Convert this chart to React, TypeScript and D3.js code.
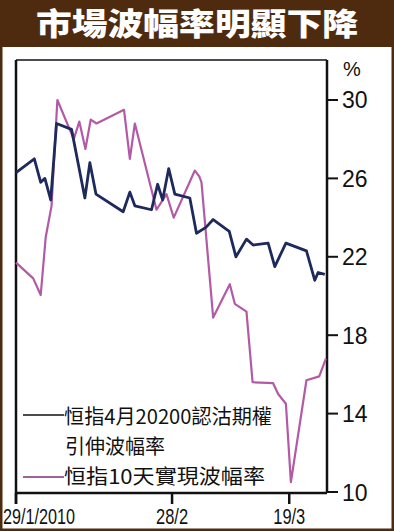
import React from 'react';
import * as d3 from 'd3';

// x is a position in trading-period units from 29/1/2010, y is volatility (%)
const impliedX = [0, 3.3, 4.45, 5.2, 6.25, 7.3, 10.0, 12.4, 13.3, 14.4, 19.3, 20.5, 21.4, 24.4, 25.5, 26.4, 27.5, 28.6, 31.3, 32.5, 34.2, 35.5, 38.4, 39.6, 41.5, 42.7, 45.4, 46.6, 48.6, 52.3, 53.8, 54.4, 55.6];
const impliedVol = [26.3, 27.0, 25.8, 26.0, 24.9, 28.8, 28.5, 25.0, 26.8, 25.2, 24.3, 25.3, 24.6, 24.4, 25.7, 24.9, 26.5, 25.2, 25.0, 23.2, 23.5, 23.9, 23.3, 22.0, 22.9, 22.6, 22.7, 21.5, 22.7, 22.3, 20.8, 21.2, 21.1];

const realizedX = [0, 3.1, 4.45, 5.35, 6.4, 7.45, 10.4, 11.4, 12.5, 13.45, 14.5, 19.45, 20.5, 21.4, 25.3, 27.1, 28.4, 32.2, 33.0, 33.4, 35.5, 38.5, 39.4, 41.5, 42.6, 46.3, 47.2, 48.6, 49.5, 52.3, 54.6, 55.8];
const realizedVol = [21.7, 20.9, 20.05, 23.0, 24.6, 30.0, 28.0, 28.9, 27.5, 29.0, 28.8, 29.5, 27.0, 28.8, 24.4, 25.2, 24.0, 26.4, 26.1, 25.8, 18.9, 20.6, 19.6, 19.2, 15.6, 15.55, 15.0, 14.5, 10.5, 15.7, 15.9, 16.8];

const xTickPos = [0, 28.1, 49.2];
const xTickLabels = ['29/1/2010', '28/2', '19/3'];
const yTicks = [10, 14, 18, 22, 26, 30];

const title = '市場波幅率明顯下降';
const legend1a = '恒指4月20200認沽期權';
const legend1b = '引伸波幅率';
const legend2 = '恒指10天實現波幅率';

const W = 394;
const H = 531;
const brown = '#4e2b0f';
const navy = '#1e295c';
const purple = '#b35aa6';

const App: React.FC = () => {
  const left = 16;
  const right = 327;
  const top = 60;
  const bottom = 493;

  const x = d3.scaleLinear().domain([0, 56]).range([left, right]);
  const y = d3.scaleLinear().domain([10, 32.04]).range([492, top]);

  const line = d3.line<[number, number]>()
    .x(d => x(d[0]))
    .y(d => y(d[1]));

  const implied = impliedX.map((v, i) => [v, impliedVol[i]] as [number, number]);
  const realized = realizedX.map((v, i) => [v, realizedVol[i]] as [number, number]);

  const cjk = '"Noto Sans CJK TC", "Noto Sans CJK SC", sans-serif';
  const latin = '"Liberation Sans", Arial, sans-serif';

  return (
    <svg width={W} height={H} style={{ position: 'absolute', left: 0, top: 0 }}>
      <rect x={0} y={0} width={W} height={H} fill="#ffffff" />
      {/* brown frame and title band */}
      <rect x={1} y={1} width={W - 2} height={H - 2} fill="none" stroke={brown} strokeWidth={3} />
      <rect x={0} y={0} width={W} height={47} fill={brown} />
      <text x={W / 2} y={35} textAnchor="middle" fill="#ffffff" fontFamily={cjk}
        fontWeight={900} fontSize={31} textLength={322} lengthAdjust="spacingAndGlyphs">{title}</text>

      {/* plot frame */}
      <line x1={left} x2={right} y1={top} y2={top} stroke="#111" strokeWidth={1.5} />
      <line x1={left} x2={left} y1={top} y2={bottom + 11} stroke="#111" strokeWidth={2.5} />
      <line x1={right} x2={right} y1={top} y2={bottom} stroke="#111" strokeWidth={2.5} />
      <line x1={left} x2={right} y1={bottom} y2={bottom} stroke="#111" strokeWidth={2.5} />

      {/* right axis */}
      {yTicks.map(t => (
        <g key={t}>
          <line x1={right} x2={right + 11} y1={y(t)} y2={y(t)} stroke="#111" strokeWidth={2} />
          <text x={right + 15} y={y(t) + 8.5} fontFamily={latin} fontSize={23} fill="#111">{t}</text>
        </g>
      ))}
      <text x={right + 16} y={76} fontFamily={latin} fontSize={20} fill="#111">%</text>

      {/* bottom axis */}
      {xTickPos.map((t, i) => {
        const w = i === 0 ? 72 : 32;
        const cx = Math.max(x(t), w / 2 + 3);
        return (
          <g key={t}>
            <line x1={x(t)} x2={x(t)} y1={bottom} y2={bottom + 11} stroke="#111" strokeWidth={2.5} />
            <text x={cx} y={524} textAnchor="middle" fontFamily={latin} fontSize={22} fill="#111"
              textLength={w} lengthAdjust="spacingAndGlyphs">{xTickLabels[i]}</text>
          </g>
        );
      })}

      {/* series */}
      <path d={line(realized) as string} fill="none" stroke={purple} strokeWidth={2.2} strokeLinejoin="round" />
      <path d={line(implied) as string} fill="none" stroke={navy} strokeWidth={2.8} strokeLinejoin="round" />

      {/* legend */}
      <line x1={23} x2={64} y1={415} y2={415} stroke="#111" strokeWidth={1.5} />
      <text x={64} y={424} fontFamily={cjk} fontSize={20} fill="#111" textLength={208} lengthAdjust="spacingAndGlyphs">{legend1a}</text>
      <text x={65} y={454} fontFamily={cjk} fontSize={20} fill="#111">{legend1b}</text>
      <line x1={23} x2={64} y1={477} y2={477} stroke="#7e2f7c" strokeWidth={1.5} />
      <text x={64} y={484} fontFamily={cjk} fontSize={20} fill="#111" textLength={201} lengthAdjust="spacingAndGlyphs">{legend2}</text>
    </svg>
  );
};

export default App;
